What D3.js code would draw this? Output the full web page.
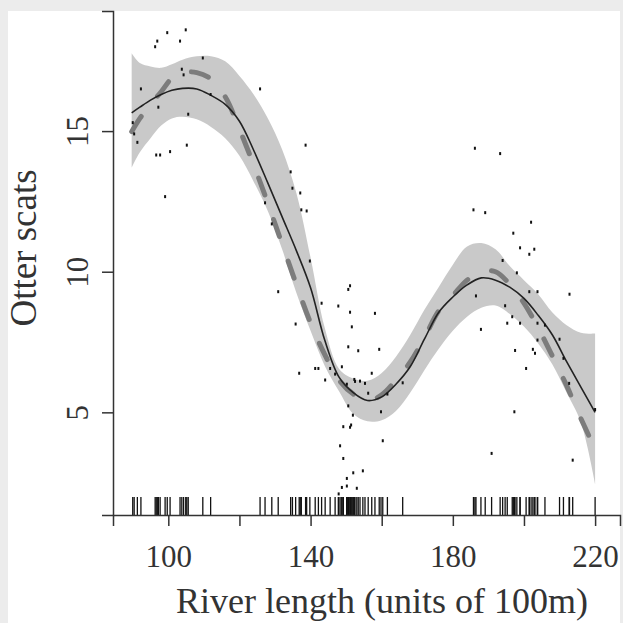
<!DOCTYPE html>
<html lang="en">
<head>
  <meta charset="UTF-8">
  <title>Otter scats vs river length</title>
  <script src="https://cdnjs.cloudflare.com/ajax/libs/d3/7.8.5/d3.min.js"></script>
  <style>
    body { margin: 0; background: #ececec; }
    svg { display: block; }
    text { font-family: "Liberation Serif", "DejaVu Serif", serif; fill: #333; }
  </style>
</head>
<body>
  <svg id="chart" width="623" height="623"></svg>
  <script>
    // observed data: river length (x) and otter scat counts (y)
    const riverLen = [
      90.0, 90.4, 91.3, 92.3, 96.3, 96.6, 96.9, 97.2, 97.7, 99.1, 99.7, 100.5, 103.3, 103.8, 104.3,
      104.9, 105.2, 105.6, 109.7, 111.9,
      125.8, 127.2, 129.1, 130.9, 134.4, 134.9, 135.8, 136.8, 137.1, 137.4, 138.6, 138.9, 139.8,
      141.3, 142.2, 143.1, 144.1, 145.5, 146.9, 147.8, 147.9, 148.3, 148.8, 148.8, 149.2, 149.2,
      150.2, 150.2, 150.2, 150.6, 150.6, 150.6, 151.1, 151.1, 151.1, 151.4, 151.6, 151.9, 152.0,
      152.3, 152.5, 153.0, 153.4, 153.9, 154.7, 155.3, 156.2, 157.2, 158.1, 159.3, 159.8, 160.3,
      161.6, 165.9,
      185.8, 186.2, 186.5, 187.9, 189.1, 190.9, 193.3, 194.0, 194.7, 195.3, 196.7, 197.0, 197.3,
      197.5, 198.0, 198.9, 198.9, 200.6, 201.5, 201.5, 202.0, 202.5, 202.9, 203.1, 203.8, 203.8,
      203.8, 205.9, 210.0, 211.1, 212.7, 212.8, 213.7, 220.0
    ];
    const scats = [
      15.3, 14.9, 14.6, 16.5, 18.0, 14.15, 18.2, 15.85, 14.15, 12.67, 18.5, 14.27, 18.2, 17.2, 17.0,
      18.6, 14.5, 15.6, 17.6, 16.3,
      16.5, 12.45, 11.7, 9.29, 13.55, 12.97, 8.14, 6.39, 12.8, 12.2, 14.5, 12.16, 10.38,
      6.56, 6.56, 8.88, 6.15, 6.56, 6.36, 8.78, 2.1, 3.81, 6.62, 2.33, 4.49, 3.36,
      6.0, 2.65, 2.38, 9.37, 7.33, 5.23, 9.5, 8.56, 4.47, 4.55, 8.04, 4.9, 2.85,
      6.17, 6.1, 2.3, 7.19, 6.11, 2.92, 6.03, 5.68, 6.39, 8.52, 7.24, 5.02, 3.99,
      5.65, 6.05,
      12.2, 14.39, 9.14, 7.95, 12.1, 3.54, 14.2, 10.4, 8.79, 8.17, 8.4, 11.37, 5.02,
      7.2, 9.96, 10.85, 8.17, 6.56, 10.62, 9.29, 11.76, 7.24, 10.8, 7.1, 9.29, 8.17,
      7.57, 8.1, 7.6, 6.92, 6.03, 9.2, 3.3, 5.1
    ];

    // smooth fit, alternative fit (dashed) and confidence band
    const fitX = [89.7, 92, 95, 98, 101, 104, 108, 112, 116, 120, 124, 128, 132, 136, 140, 144, 148,
      152, 156, 160, 164, 168, 172, 176, 180, 184, 188, 192, 196, 200, 204, 208, 212, 216, 220];
    const fitY = [15.65, 15.85, 16.1, 16.3, 16.45, 16.52, 16.5, 16.27, 15.95, 15.35, 14.32, 13.15,
      11.95, 10.75, 9.43, 7.56, 6.25, 5.7, 5.42, 5.55, 6.0, 6.62, 7.6, 8.55, 9.1, 9.53, 9.78, 9.7,
      9.45, 9.05, 8.45, 7.75, 6.8, 5.9, 5.0];
    const altY = [14.98, 15.45, 15.95, 16.4, 16.88, 17.08, 17.08, 16.85, 16.22, 15.07, 13.8, 12.43,
      10.98, 9.55, 8.18, 7.05, 6.15, 5.65, 5.42, 5.62, 6.15, 6.78, 7.65, 8.6, 9.15, 9.7, 10.0, 10.0,
      9.55, 8.88, 8.0, 7.0, 5.95, 4.78, 3.7];
    const bandHi = [17.77, 17.42, 17.3, 17.25, 17.38, 17.54, 17.66, 17.66, 17.48, 16.96, 16.3, 15.45,
      14.35, 12.8, 10.5, 8.0, 6.55, 6.2, 6.12, 6.4, 6.98, 7.75, 8.65, 9.45, 10.25, 10.9, 11.02, 10.8,
      10.2, 9.7, 9.2, 8.55, 8.1, 7.83, 7.8];
    const bandLo = [13.7, 14.25, 14.75, 15.2, 15.45, 15.51, 15.42, 15.15, 14.75, 14.12, 13.2, 12.15,
      10.8, 9.25, 7.9, 6.65, 5.75, 4.95, 4.68, 4.72, 5.05, 5.7, 6.5, 7.25, 7.9, 8.4, 8.72, 8.8, 8.5,
      8.05, 7.45, 6.7, 5.7, 4.65, 2.45];

    const xTicks = [100, 120, 140, 160, 180, 200, 220];
    const xTickLabels = [100, 140, 180, 220];
    const yTicks = [5, 10, 15];

    const svg = d3.select("#chart");
    svg.append("rect").attr("x", 8).attr("y", 11).attr("width", 612).attr("height", 612)
      .attr("fill", "#fff");

    const x = d3.scaleLinear().domain([84.45, 227]).range([113, 620]);
    const y = d3.scaleLinear().domain([1.35, 19.27]).range([515, 11]);

    const band = fitX.map((v, i) => ({ x: v, lo: bandLo[i], hi: bandHi[i] }));
    svg.append("path")
      .datum(band)
      .attr("fill", "#c9c9c9")
      .attr("d", d3.area().curve(d3.curveCatmullRom)
        .x(d => x(d.x)).y0(d => y(d.lo)).y1(d => y(d.hi)));

    svg.append("path")
      .datum(fitX.map((v, i) => [v, altY[i]]))
      .attr("fill", "none")
      .attr("stroke", "#7c7c7c")
      .attr("stroke-width", 5)
      .attr("stroke-linecap", "round")
      .attr("stroke-dasharray", "18,26")
      .attr("d", d3.line().curve(d3.curveCatmullRom).x(d => x(d[0])).y(d => y(d[1])));

    svg.append("path")
      .datum(fitX.map((v, i) => [v, fitY[i]]))
      .attr("fill", "none")
      .attr("stroke", "#222")
      .attr("stroke-width", 1.6)
      .attr("d", d3.line().curve(d3.curveCatmullRom).x(d => x(d[0])).y(d => y(d[1])));

    // points
    svg.selectAll("rect.pt")
      .data(riverLen.map((v, i) => [v, scats[i]]))
      .enter()
      .append("rect")
      .attr("class", "pt")
      .attr("x", d => x(d[0]) - 1)
      .attr("y", d => y(d[1]) - 1.5)
      .attr("width", 2)
      .attr("height", 3)
      .attr("fill", "#111");

    // rug
    svg.selectAll("line.rug")
      .data(riverLen)
      .enter()
      .append("line")
      .attr("class", "rug")
      .attr("x1", d => x(d)).attr("x2", d => x(d))
      .attr("y1", 497).attr("y2", 515)
      .attr("stroke", "#111")
      .attr("stroke-width", 1.3);

    // axes
    const gx = svg.append("g").attr("transform", "translate(0,515)")
      .call(d3.axisBottom(x).tickValues(xTicks).tickSizeOuter(0).tickSize(11)
        .tickFormat(d => xTickLabels.includes(d) ? d : ""));
    gx.selectAll("path, line").attr("stroke", "#333").attr("stroke-width", 1.5);
    gx.selectAll("text").attr("y", 52).attr("dy", 0)
      .style("font-size", "31px").style("font-family", "Liberation Serif").attr("fill", "#333");

    const gy = svg.append("g").attr("transform", "translate(113,0)")
      .call(d3.axisLeft(y).tickValues(yTicks).tickSizeOuter(0).tickSize(11));
    gy.selectAll("path, line").attr("stroke", "#333").attr("stroke-width", 1.5);
    gy.selectAll("text")
      .attr("transform", "rotate(-90)")
      .attr("x", 0).attr("y", -25).attr("dy", 0)
      .attr("text-anchor", "middle")
      .style("font-size", "31px").style("font-family", "Liberation Serif").attr("fill", "#333");

    svg.append("text")
      .attr("x", 382).attr("y", 613)
      .attr("text-anchor", "middle")
      .style("font-size", "36px")
      .text("River length (units of 100m)");

    svg.append("text")
      .attr("transform", "translate(36,248) rotate(-90)")
      .attr("text-anchor", "middle")
      .style("font-size", "37px")
      .text("Otter scats");
  </script>
</body>
</html>
